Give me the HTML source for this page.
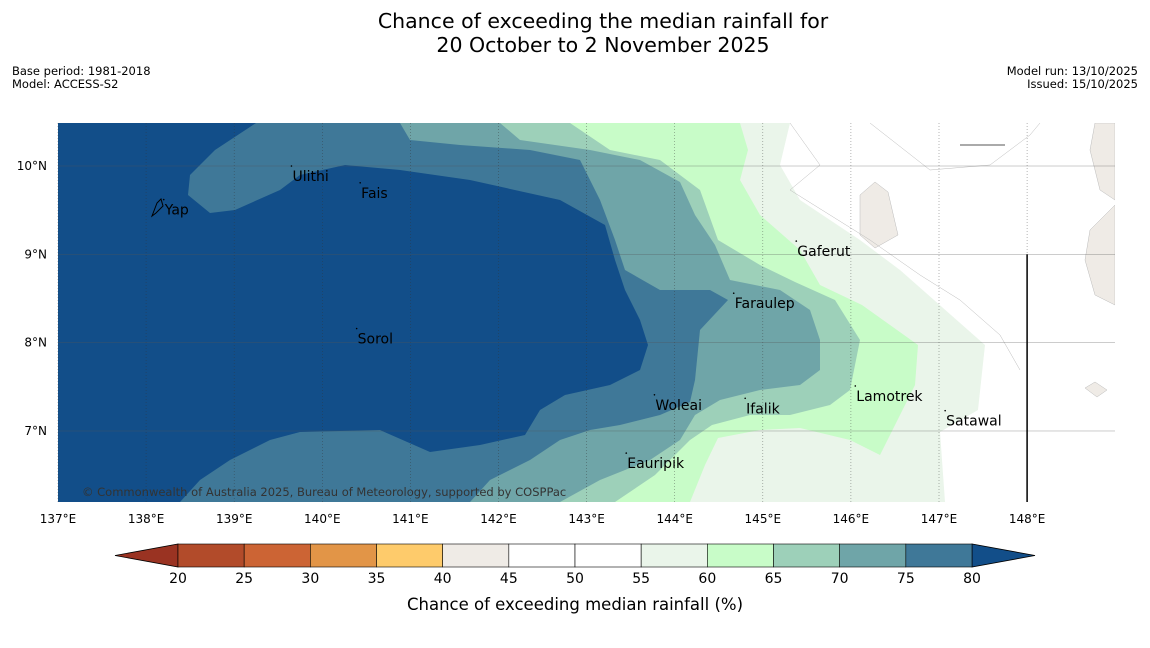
<!DOCTYPE html>
<html><head><meta charset="utf-8"><style>
body{margin:0;background:#fff;font-family:"DejaVu Sans","Liberation Sans",sans-serif;}
svg text{font-family:"DejaVu Sans","Liberation Sans",sans-serif;}
</style></head><body>
<svg id="c" width="1150" height="644" viewBox="0 0 1150 644" xmlns="http://www.w3.org/2000/svg">
<text x="603" y="28" font-size="20.5" text-anchor="middle">Chance of exceeding the median rainfall for</text>
<text x="603" y="52" font-size="20.5" text-anchor="middle">20 October to 2 November 2025</text>
<text x="12" y="75" font-size="11.5">Base period: 1981-2018</text>
<text x="12" y="88" font-size="11.5">Model: ACCESS-S2</text>
<text x="1138" y="75" font-size="11.5" text-anchor="end">Model run: 13/10/2025</text>
<text x="1138" y="88" font-size="11.5" text-anchor="end">Issued: 15/10/2025</text>
<defs><clipPath id="mc"><rect x="58" y="123" width="1057" height="379"/></clipPath></defs>
<g id="map" clip-path="url(#mc)"><rect x="58" y="123" width="1057" height="379" fill="#fff"/></g>
<g id="grid"></g>
<g id="labels"></g>
<g id="cbar"></g>
</svg>
<script>
const NS="http://www.w3.org/2000/svg";
const lonTicks=[137,138,139,140,141,142,143,144,145,146,147,148];
const latTicks=[7,8,9,10];
const cbTicks=[20,25,30,35,40,45,50,55,60,65,70,75,80];
const cbColors=["#b24b2a","#cc6434","#e29547","#fecb6b","#efebe6","#ffffff","#ffffff","#eaf5ea","#c8fcc8","#9dd0b9","#6fa5a8","#3f7898"];
const islands=["Yap","Ulithi","Fais","Gaferut","Faraulep","Sorol","Lamotrek","Woleai","Ifalik","Satawal","Eauripik"];
const islandLon=[138.2,139.65,140.43,145.38,144.67,140.39,146.05,143.77,144.8,147.07,143.45];
const islandLat=[9.62,10.0,9.81,9.15,8.56,8.16,7.51,7.41,7.37,7.23,6.75];
const X=lon=>58+(lon-137)*88.1, Y=lat=>166+(10-lat)*88.33;
const L=x=>137+(x-58)/88.1, B=y=>10-(y-166)/88.33;
function el(t,a,p){const e=document.createElementNS(NS,t);for(const k in a)e.setAttribute(k,a[k]);p.appendChild(e);return e;}
const c55=[[L(790),B(123)],[L(780),B(165)],[L(800),B(200)],[L(860),B(240)],[L(900),B(270)],[L(985),B(345)],[L(978),B(410)],[L(940),B(432)],[L(945),B(502)],[L(58),B(502)],[L(58),B(123)]];
const c60=[[L(740),B(123)],[L(748),B(150)],[L(740),B(180)],[L(760),B(215)],[L(800),B(250)],[L(820),B(285)],[L(862),B(305)],[L(918),B(345)],[L(915),B(385)],[L(880),B(455)],[L(850),B(440)],[L(800),B(428)],[L(760),B(430)],[L(718),B(438)],[L(705),B(465)],[L(690),B(502)],[L(58),B(502)],[L(58),B(123)]];
const c65=[[L(570),B(123)],[L(610),B(150)],[L(660),B(160)],[L(700),B(190)],[L(718),B(240)],[L(760),B(265)],[L(795),B(282)],[L(835),B(300)],[L(860),B(340)],[L(850),B(390)],[L(830),B(405)],[L(790),B(415)],[L(750),B(415)],[L(712),B(425)],[L(690),B(440)],[L(655),B(475)],[L(615),B(502)],[L(58),B(502)],[L(58),B(123)]];
const c70=[[L(500),B(123)],[L(520),B(140)],[L(590),B(150)],[L(640),B(160)],[L(680),B(182)],[L(695),B(215)],[L(715),B(245)],[L(730),B(280)],[L(780),B(290)],[L(810),B(310)],[L(820),B(340)],[L(820),B(370)],[L(800),B(385)],[L(760),B(390)],[L(720),B(400)],[L(695),B(415)],[L(680),B(440)],[L(650),B(460)],[L(600),B(480)],[L(560),B(502)],[L(58),B(502)],[L(58),B(123)]];
const c75=[[L(400),B(123)],[L(410),B(140)],[L(460),B(145)],[L(530),B(150)],[L(580),B(160)],[L(600),B(200)],[L(615),B(240)],[L(625),B(270)],[L(660),B(290)],[L(710),B(290)],[L(728),B(300)],[L(700),B(330)],[L(695),B(380)],[L(690),B(402)],[L(660),B(415)],[L(620),B(425)],[L(590),B(430)],[L(560),B(440)],[L(530),B(460)],[L(490),B(480)],[L(470),B(502)],[L(58),B(502)],[L(58),B(123)]];
const c80=[[L(58),B(123)],[L(256),B(123)],[L(215),B(150)],[L(190),B(175)],[L(188),B(195)],[L(210),B(213)],[L(235),B(210)],[L(280),B(190)],[L(300),B(175)],[L(345),B(165)],[L(400),B(170)],[L(470),B(180)],[L(560),B(200)],[L(605),B(225)],[L(615),B(260)],[L(625),B(290)],[L(640),B(320)],[L(648),B(345)],[L(640),B(370)],[L(610),B(385)],[L(565),B(395)],[L(540),B(410)],[L(525),B(435)],[L(480),B(445)],[L(430),B(452)],[L(380),B(430)],[L(300),B(432)],[L(270),B(440)],[L(230),B(460)],[L(200),B(480)],[L(180),B(502)],[L(58),B(502)]];
const land1=[[L(860),B(195)],[L(875),B(182)],[L(888),B(192)],[L(898),B(235)],[L(875),B(248)],[L(860),B(235)]];
const land2=[[L(1095),B(123)],[L(1115),B(123)],[L(1115),B(200)],[L(1100),B(190)],[L(1090),B(150)]];
const land3=[[L(1115),B(205)],[L(1115),B(305)],[L(1095),B(295)],[L(1085),B(260)],[L(1090),B(230)]];
const land4=[[L(1085),B(388)],[L(1095),B(382)],[L(1107),B(390)],[L(1097),B(397)]];
const map=document.getElementById('map');
const layers=[[c55,"#eaf5ea"],[c60,"#c8fcc8"],[c65,"#9dd0b9"],[c70,"#6fa5a8"],[c75,"#3f7898"],[c80,"#124e89"],[land1,"#efebe6"],[land2,"#efebe6"],[land3,"#efebe6"],[land4,"#efebe6"]];
layers.forEach((ly,i)=>{const p=el('polygon',{points:ly[0].map(q=>X(q[0])+','+Y(q[1])).join(' '),fill:ly[1],stroke:i<6?'none':'#bbb','stroke-width':0.5},map);

});
el('path',{d:`M790,123 L820,165 L790,190 L870,240 L920,275 L960,300 L1000,335 L1020,370`,fill:'none',stroke:'#bbb','stroke-width':0.5},map);
el('path',{d:`M870,123 L930,170 L990,165 L1030,135 L1040,123`,fill:'none',stroke:'#bbb','stroke-width':0.5},map);
el('path',{d:`M960,145 L1005,145`,fill:'none',stroke:'#aaa','stroke-width':2},map);
const g=document.getElementById('grid');
lonTicks.forEach(t=>{const l=el('line',{x1:X(t),x2:X(t),y1:123,y2:502,stroke:'#333','stroke-width':0.6,'stroke-dasharray':'1,2',opacity:0.6},g);


const tx=el('text',{x:X(t),y:523,'font-size':12,'text-anchor':'middle'},g);tx.textContent=t+'°E';

});
latTicks.forEach(t=>{const l=el('line',{x1:58,x2:1115,y1:Y(t),y2:Y(t),stroke:'#555','stroke-width':0.5,opacity:0.6},g);


const tx=el('text',{x:47,y:Y(t)+4,'font-size':12,'text-anchor':'end'},g);tx.textContent=t+'°N';

});
el('line',{x1:X(148),x2:X(148),y1:Y(9),y2:502,stroke:'#000','stroke-width':1.5},g);
const lb=document.getElementById('labels');
islands.forEach((n,i)=>{const x=X(islandLon[i]),y=Y(islandLat[i]);
el('circle',{cx:x,cy:y,r:0.8,fill:'#000'},lb);
const t=el('text',{x:x+1,y:y+15,'font-size':14},lb);t.textContent=n;

});
el('path',{d:'M152,216 L157,203 L161,199 L163,206 L156,213 Z',fill:'none',stroke:'#000','stroke-width':1},lb);
const cp=el('text',{x:82,y:496,'font-size':11.5,fill:'#333'},lb);cp.textContent='© Commonwealth of Australia 2025, Bureau of Meteorology, supported by COSPPac';


const cb=document.getElementById('cbar');
const CX=v=>178+(v-20)*(972-178)/60;
el('polygon',{points:`115,555.5 ${CX(20)},544 ${CX(20)},567`,fill:'#9a3322',stroke:'#000','stroke-width':0.8},cb);
el('polygon',{points:`1035,555.5 ${CX(80)},544 ${CX(80)},567`,fill:'#124e89',stroke:'#000','stroke-width':0.8},cb);
cbColors.forEach((c,i)=>{const r=el('rect',{x:CX(cbTicks[i]),y:544,width:CX(cbTicks[i+1])-CX(cbTicks[i]),height:23,fill:c,stroke:'#000','stroke-width':0.6},cb);

});
cbTicks.forEach(t=>{const tx=el('text',{x:CX(t),y:583,'font-size':14,'text-anchor':'middle'},cb);tx.textContent=t;

});
const ct=el('text',{x:575,y:610,'font-size':16.5,'text-anchor':'middle'},cb);ct.textContent='Chance of exceeding median rainfall (%)';


</script>
</body></html>
